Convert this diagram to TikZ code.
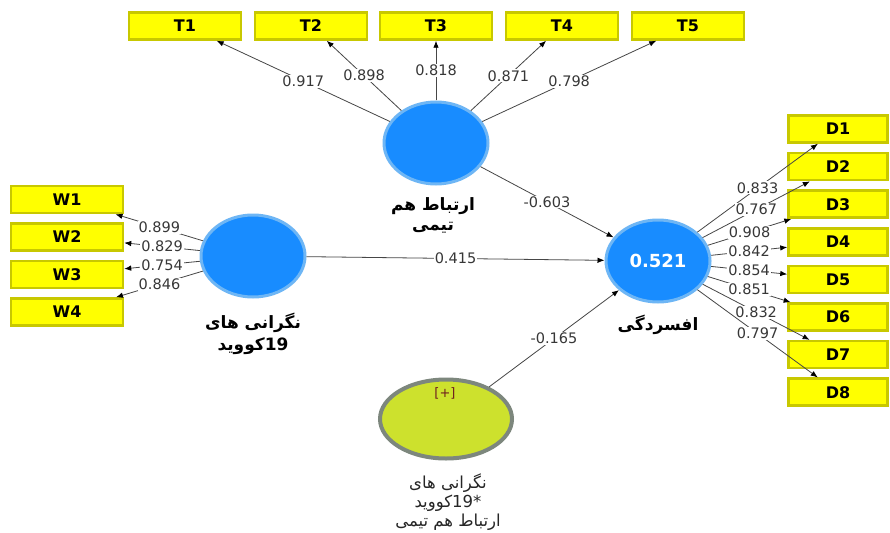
\documentclass[tikz,border=0pt]{standalone}
\usepackage{fontspec}
\setmainfont{DejaVu Sans}
\newfontfamily\fa[Script=Arabic]{DejaVu Sans}
\TeXXeTstate=1
\usetikzlibrary{shapes.geometric,arrows.meta}

\definecolor{boxfill}{RGB}{255,255,0}
\definecolor{boxline}{RGB}{200,200,0}
\definecolor{lvfill}{RGB}{24,140,255}
\definecolor{lvline}{RGB}{110,182,245}
\definecolor{modfill}{RGB}{205,225,45}
\definecolor{modline}{RGB}{125,135,125}
\definecolor{edgecol}{RGB}{70,70,70}
\definecolor{numcol}{RGB}{55,55,55}
\definecolor{plusred}{RGB}{110,30,30}

\tikzset{
  ind/.style={rectangle, draw=boxline, line width=2.5pt, fill=boxfill,
    minimum width=112pt, minimum height=27pt, inner sep=0pt,
    font=\fontsize{16}{16}\selectfont\bfseries},
  dind/.style={ind, minimum width=99pt},
  lv/.style={ellipse, draw=lvline, line width=3pt, fill=lvfill,
    minimum width=104pt, minimum height=82pt, inner sep=0pt},
  mod/.style={ellipse, draw=modline, line width=4pt, fill=modfill,
    minimum width=132pt, minimum height=79pt, inner sep=0pt},
  pth/.style={draw=edgecol, line width=0.8pt,
    -{Latex[length=7pt,width=5.5pt,color=black]}},
  lab/.style={fill=white, inner sep=1pt, text=numcol,
    font=\fontsize{14.5}{14.5}\selectfont},
  lvname/.style={font=\fontsize{17}{17}\selectfont\fa\bfseries},
  modname/.style={font=\fontsize{16.5}{16.5}\selectfont\fa, text=black!85},
}

\begin{document}
\begin{tikzpicture}[x=1pt,y=-1pt]
\useasboundingbox[fill=white] (0,0) rectangle (890,532);

% latent variables
\node[lv] (team) at (436,143) {};
\node[lv] (covid) at (253,256) {};
\node[lv] (dep) at (658,261)
  {\color{white}\fontsize{18}{18}\selectfont\bfseries 0.521};
\node[mod] (inter) at (446,419) {};
\node[text=plusred, font=\fontsize{13}{13}\selectfont] (plus) at (445,393) {[+]};

% names under the latent variables
\node[lvname] (teamA) at (433,206) {\beginR ارتباط هم\endR};
\node[lvname] (teamB) at (433,228) {\beginR تیمی\endR};
\node[lvname] (covA) at (253,323) {\beginR نگرانی های\endR};
\node[lvname] (covB) at (253,346) {{\beginR کووید\endR}{\fontspec{DejaVu Sans}\bfseries 19}};
\node[lvname] (depA) at (658,325) {\beginR افسردگی\endR};
\node[modname] (intA) at (448,483) {\beginR نگرانی های\endR};
\node[modname] (intB) at (448,503) {{\beginR کووید\endR}{\fontspec{DejaVu Sans}19*}};
\node[modname] (intC) at (448,522) {\beginR ارتباط هم تیمی\endR};

% indicators of the team construct
\node[ind] (T1) at (185,26) {T1};
\node[ind] (T2) at (311,26) {T2};
\node[ind] (T3) at (436,26) {T3};
\node[ind] (T4) at (562,26) {T4};
\node[ind] (T5) at (688,26) {T5};

% indicators of the covid construct
\node[ind] (W1) at (67,199.5) {W1};
\node[ind] (W2) at (67,237) {W2};
\node[ind] (W3) at (67,274.5) {W3};
\node[ind] (W4) at (67,312) {W4};

% indicators of the depression construct
\node[dind] (D1) at (838,129) {D1};
\node[dind] (D2) at (838,166.6) {D2};
\node[dind] (D3) at (838,204.2) {D3};
\node[dind] (D4) at (838,241.8) {D4};
\node[dind] (D5) at (838,279.4) {D5};
\node[dind] (D6) at (838,317) {D6};
\node[dind] (D7) at (838,354.6) {D7};
\node[dind] (D8) at (838,392.2) {D8};

% outer loadings
\draw[pth] (team) -- node[lab] {0.917} (T1);
\draw[pth] (team) -- node[lab] {0.898} (T2);
\draw[pth] (team) -- node[lab] {0.818} (T3);
\draw[pth] (team) -- node[lab] {0.871} (T4);
\draw[pth] (team) -- node[lab] {0.798} (T5);

\draw[pth] (covid) -- node[lab] {0.899} (W1);
\draw[pth] (covid) -- node[lab] {0.829} (W2);
\draw[pth] (covid) -- node[lab] {0.754} (W3);
\draw[pth] (covid) -- node[lab] {0.846} (W4);

\draw[pth] (dep) -- node[lab] {0.833} (D1);
\draw[pth] (dep) -- node[lab] {0.767} (D2);
\draw[pth] (dep) -- node[lab] {0.908} (D3);
\draw[pth] (dep) -- node[lab] {0.842} (D4);
\draw[pth] (dep) -- node[lab] {0.854} (D5);
\draw[pth] (dep) -- node[lab] {0.851} (D6);
\draw[pth] (dep) -- node[lab] {0.832} (D7);
\draw[pth] (dep) -- node[lab] {0.797} (D8);

% structural paths
\draw[pth] (team) -- node[lab] {-0.603} (dep);
\draw[pth] (covid) -- node[lab] {0.415} (dep);
\draw[pth] (inter) -- node[lab] {-0.165} (dep);
\end{tikzpicture}
\end{document}
